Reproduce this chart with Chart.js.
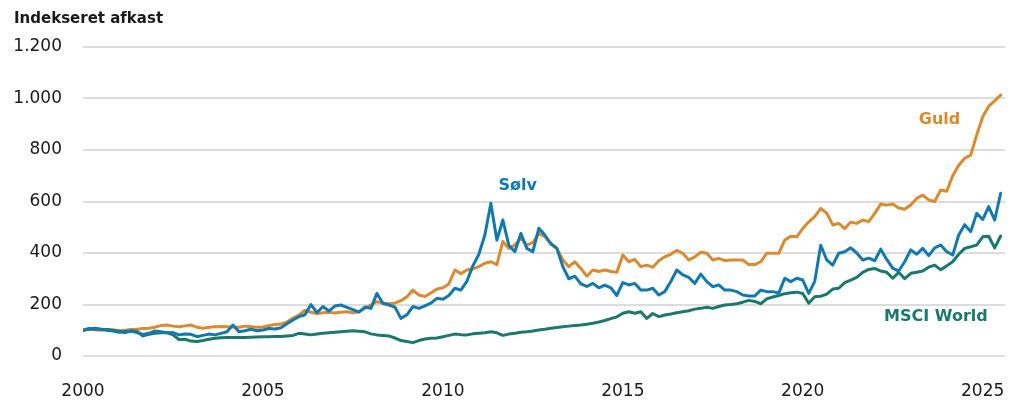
<!DOCTYPE html>
<html>
<head>
<meta charset="utf-8">
<script src="https://cdn.jsdelivr.net/npm/chart.js@4/dist/chart.umd.min.js"></script>
<style>
  html, body { margin: 0; padding: 0; background: #ffffff; }
  canvas { display: block; }
</style>
</head>
<body>
<canvas id="myChart" width="1024" height="409"></canvas>
<script>
// Indekseret afkast, 2000 = 100, one value every second month (Jan 2000 - Jul 2025)
var startYear = 2000;
var stepsPerYear = 6;

var guld = [
  100, 104, 102, 100, 103, 101,
  99, 100, 103, 104, 107, 108,
  112, 118, 120, 116, 114, 117,
  120, 112, 108, 112, 114, 115,
  114, 113, 112, 116, 114, 112,
  113, 118, 122, 124, 132, 147,
  159, 178, 170, 165, 168, 170,
  167, 170, 172, 168, 172, 185,
  198, 211, 205, 203, 205, 215,
  230, 256, 237, 231, 245, 260,
  265, 280, 334, 320, 334, 338,
  347, 360, 366, 355, 445, 418,
  431, 457, 431, 440, 476, 463,
  437, 418, 373, 347, 366, 340,
  310, 334, 328, 334, 328, 325,
  392, 366, 375, 347, 353, 345,
  370, 385, 395, 410, 399, 373,
  385, 403, 399, 373, 379, 370,
  373, 373, 373, 355, 355, 366,
  399, 399, 399, 450, 465, 463,
  495, 521, 541, 573, 555, 509,
  515, 495, 520, 515, 528, 522,
  554, 590, 586, 590, 575, 570,
  586, 612, 625, 606, 600, 645,
  640, 700, 741, 768, 780, 858,
  929, 970, 991, 1013
];

var solv = [
  100, 107, 104, 104, 100, 97,
  92, 95, 97, 91, 84, 88,
  97, 94, 90, 91, 82, 85,
  84, 75, 80, 85, 82, 88,
  94, 120, 94, 98, 104, 98,
  101, 107, 105, 110, 125, 140,
  153, 160, 200, 168, 192, 175,
  194, 198, 189, 180, 170, 190,
  185, 243, 205, 198, 190, 146,
  160, 192, 185, 195, 205, 224,
  220, 235, 263, 256, 290, 350,
  395, 470, 593, 450, 528, 430,
  405, 476, 418, 405, 496, 470,
  436, 418, 347, 300, 310, 280,
  270, 282, 265, 275, 265, 235,
  285, 276, 282, 256, 256, 263,
  237, 250, 289, 334, 315, 305,
  282, 318, 289, 269, 276, 256,
  256, 250, 237, 233, 233, 256,
  250, 250, 244, 302, 289, 302,
  295, 243, 290, 430, 373, 353,
  399, 405, 420, 400, 373, 380,
  370, 415, 375, 341, 330, 366,
  412, 395, 418, 390, 420, 431,
  405, 392, 470, 510, 483, 554,
  530, 580, 528, 632
];

var msci = [
  100, 105, 108, 104, 103, 100,
  95, 91, 97, 95, 78, 84,
  88, 90, 91, 82, 64, 65,
  58, 56, 60, 65, 69, 71,
  72, 72, 72, 72, 73, 74,
  75, 75, 76, 76, 78, 80,
  88, 85, 82, 85, 88, 90,
  92, 94, 96, 98, 96, 94,
  86, 82, 80, 78, 70, 60,
  56, 52, 60, 66, 69, 70,
  75, 80, 85, 83, 82, 86,
  88, 90, 94, 90, 80, 85,
  88, 92, 94, 97, 101, 104,
  108, 111, 114, 116, 118, 120,
  123, 127, 132, 138, 145, 152,
  166, 172, 166, 172, 146, 165,
  153, 159, 163, 168, 172, 176,
  182, 185, 189, 185, 192, 198,
  200, 203, 209, 216, 212, 203,
  222, 229, 235, 242, 246, 248,
  243, 205, 230, 232, 240, 260,
  263, 285, 295, 305, 325, 336,
  340, 330, 325, 302, 325, 300,
  321, 325, 330, 345, 353, 335,
  350, 366, 395, 418, 424, 431,
  463, 465, 420, 466
];

var xTicks = [2000, 2005, 2010, 2015, 2020, 2025];
var yTicks = [0, 200, 400, 600, 800, 1000, 1200];

var orange = '#dc8a2f';
var blue = '#1179b0';
var teal = '#1c786b';

function points(values) {
  return values.map(function (v, i) {
    return { x: startYear + i / stepsPerYear, y: v };
  });
}

function daFormat(v) {
  return String(v).replace(/\B(?=(\d{3})+(?!\d))/g, '.');
}

// title + series names drawn on the canvas
var textPlugin = {
  id: 'texts',
  afterDraw: function (chart) {
    var ctx = chart.ctx;
    var xs = chart.scales.x, ys = chart.scales.y;
    ctx.save();
    ctx.textBaseline = 'middle';
    ctx.textAlign = 'left';
    ctx.fillStyle = '#1a1a1a';
    ctx.font = 'bold 15px "DejaVu Sans"';
    ctx.fillText('Indekseret afkast', 14, 19);

    ctx.textAlign = 'center';
    ctx.font = 'bold 16px "DejaVu Sans"';
    ctx.fillStyle = orange;
    ctx.fillText('Guld', xs.getPixelForValue(2023.8), ys.getPixelForValue(916));
    ctx.fillStyle = blue;
    ctx.fillText('Sølv', xs.getPixelForValue(2012.08), ys.getPixelForValue(660));
    ctx.fillStyle = teal;
    ctx.fillText('MSCI World', xs.getPixelForValue(2023.7), ys.getPixelForValue(151));
    ctx.restore();
  }
};

var ctx = document.getElementById('myChart').getContext('2d');

var myChart = new Chart(ctx, {
  type: 'line',
  data: {
    datasets: [
      { label: 'Sølv', data: points(solv), borderColor: blue },
      { label: 'MSCI World', data: points(msci), borderColor: teal },
      { label: 'Guld', data: points(guld), borderColor: orange }
    ]
  },
  options: {
    responsive: false,
    animation: false,
    devicePixelRatio: 1,
    layout: { padding: { top: 47, right: 19, left: 0, bottom: 0 } },
    elements: {
      point: { radius: 0 },
      line: { borderWidth: 3, tension: 0, borderJoinStyle: 'round', borderCapStyle: 'round' }
    },
    plugins: {
      legend: { display: false },
      tooltip: { enabled: false }
    },
    scales: {
      x: {
        type: 'linear',
        min: 2000,
        max: 2025.62,
        grid: { display: false },
        border: { display: false },
        afterBuildTicks: function (scale) {
          scale.ticks = xTicks.map(function (v) { return { value: v }; });
        },
        afterFit: function (scale) { scale.height = 53; },
        ticks: {
          padding: 17,
          color: '#1a1a1a',
          font: { family: '"DejaVu Sans"', size: 17 },
          maxRotation: 0,
          callback: function (v) { return String(v); }
        }
      },
      y: {
        min: 0,
        max: 1200,
        grid: { color: '#dddddd', lineWidth: 2, drawTicks: false },
        border: { display: false },
        afterBuildTicks: function (scale) {
          scale.ticks = yTicks.map(function (v) { return { value: v }; });
        },
        afterFit: function (scale) { scale.width = 83; },
        ticks: {
          padding: 21,
          color: '#1a1a1a',
          font: { family: '"DejaVu Sans"', size: 17 },
          callback: function (v) { return daFormat(v); }
        }
      }
    }
  },
  plugins: [textPlugin]
});
</script>
</body>
</html>
